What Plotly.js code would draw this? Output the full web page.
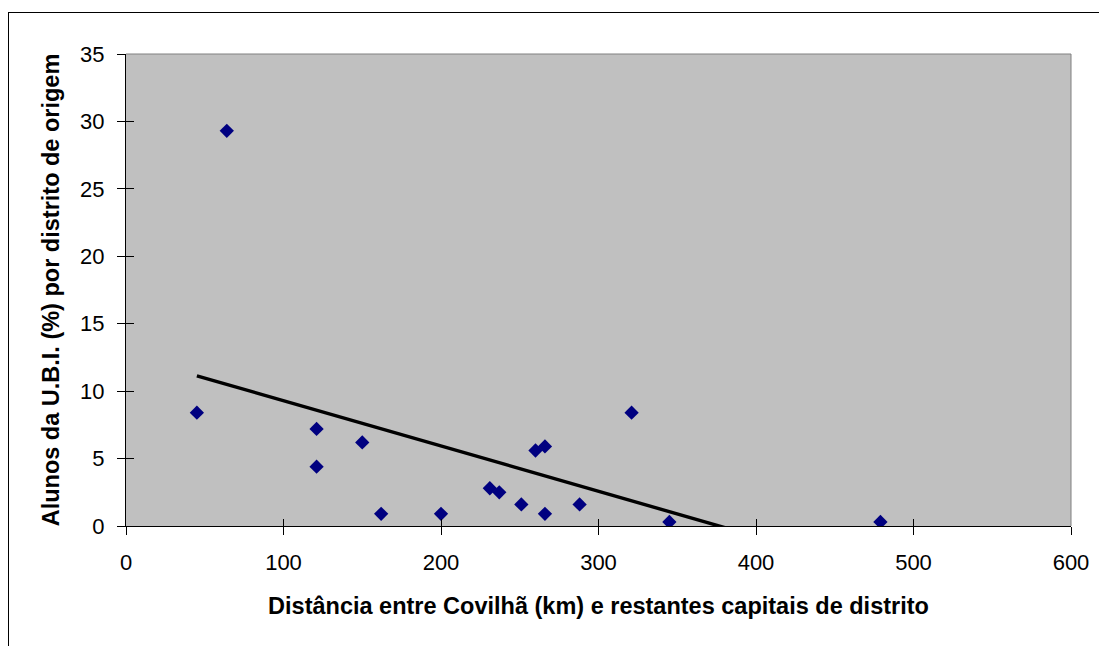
<!DOCTYPE html>
<html>
<head>
<meta charset="utf-8">
<script src="https://cdn.plot.ly/plotly-3.0.1.min.js"></script>
<style>
html, body { margin:0; padding:0; overflow:hidden; background:#fff; width:1099px; height:646px; }
#frame { position:absolute; left:8px; top:12px; width:1300px; height:900px; border:1px solid #000; box-sizing:border-box; }
#chart { position:absolute; left:0; top:0; width:1099px; height:646px; }
</style>
</head>
<body>
<div id="frame"></div>
<div id="chart"></div>
<script>
// Distance from Covilhã (km) to each district capital
const distanceKm = [45, 64, 121, 121, 150, 162, 200, 231, 237, 251, 260, 266, 266, 288, 321, 345, 479];
// Share of UBI students (%) per district of origin
const studentsPct = [8.4, 29.3, 7.2, 4.4, 6.2, 0.9, 0.9, 2.8, 2.5, 1.6, 5.6, 5.9, 0.9, 1.6, 8.4, 0.3, 0.3];
const xTicks = [0, 100, 200, 300, 400, 500, 600];
const yTicks = [0, 5, 10, 15, 20, 25, 30, 35];
const xTitle = 'Distância entre Covilhã (km) e restantes capitais de distrito';
const yTitle = 'Alunos da U.B.I. (%) por distrito de origem';

// linear least-squares trendline (as Excel's linear trendline)
const n = distanceKm.length;
const mx = distanceKm.reduce((a, b) => a + b, 0) / n;
const my = studentsPct.reduce((a, b) => a + b, 0) / n;
let sxy = 0, sxx = 0;
for (let i = 0; i < n; i++) {
  sxy += (distanceKm[i] - mx) * (studentsPct[i] - my);
  sxx += (distanceKm[i] - mx) * (distanceKm[i] - mx);
}
const slope = sxy / sxx;
const intercept = my - slope * mx;
const trendX = [Math.min(...distanceKm), Math.max(...distanceKm)];
const trendY = trendX.map(v => intercept + slope * v);

const font = 'Liberation Sans, Arial, sans-serif';

const traces = [
  {
    x: trendX, y: trendY, mode: 'lines', type: 'scatter',
    line: {color: '#000000', width: 3.4}, hoverinfo: 'skip', showlegend: false
  },
  {
    x: distanceKm, y: studentsPct, mode: 'markers', type: 'scatter',
    marker: {symbol: 'diamond', size: 11, color: '#000080', line: {width: 0}},
    showlegend: false
  },
  {
    x: [null], y: [null], xaxis: 'x2', yaxis: 'y2', mode: 'markers', type: 'scatter',
    showlegend: false, hoverinfo: 'skip'
  }
];

const layout = {
  width: 1099, height: 646,
  margin: {l: 126, r: 28, t: 54, b: 120},
  paper_bgcolor: 'rgba(0,0,0,0)',
  plot_bgcolor: '#C0C0C0',
  font: {family: font, color: '#000', size: 22},
  showlegend: false,
  xaxis: {
    range: [0, 600], tickvals: xTicks, ticktext: xTicks.map(String),
    showgrid: false, zeroline: false,
    showline: true, linecolor: '#000', linewidth: 1,
    ticks: 'outside', ticklen: 8, tickcolor: '#000', tickwidth: 1,
    ticklabelstandoff: 9,
    tickfont: {family: font, size: 22, color: '#000'},
    title: {text: xTitle, font: {family: font, size: 23.5, color: '#000', weight: 'bold'}, standoff: 23},
    fixedrange: true
  },
  yaxis: {
    range: [0, 35], tickvals: yTicks, ticktext: yTicks.map(String),
    showgrid: false, zeroline: false,
    showline: true, linecolor: '#000', linewidth: 1,
    ticks: 'outside', ticklen: 8, tickcolor: '#000', tickwidth: 1,
    ticklabelstandoff: 8,
    tickfont: {family: font, size: 22, color: '#000'},
    title: {text: yTitle, font: {family: font, size: 23.5, color: '#000', weight: 'bold'}, standoff: 13},
    fixedrange: true
  },
  xaxis2: {
    overlaying: 'x', anchor: 'y2', range: [0, 600], tickvals: xTicks,
    showticklabels: false, showgrid: false, zeroline: false, showline: false,
    ticks: 'inside', ticklen: 7, tickcolor: '#000', tickwidth: 1, fixedrange: true
  },
  yaxis2: {
    overlaying: 'y', anchor: 'x2', range: [0, 35], tickvals: yTicks,
    showticklabels: false, showgrid: false, zeroline: false, showline: false,
    ticks: 'inside', ticklen: 8, tickcolor: '#000', tickwidth: 1, fixedrange: true
  },
  shapes: [
    {type: 'line', xref: 'paper', yref: 'paper', x0: 0, x1: 1, y0: 1, y1: 1,
     line: {color: '#808080', width: 1}, layer: 'above'},
    {type: 'line', xref: 'paper', yref: 'paper', x0: 1, x1: 1, y0: 0, y1: 1,
     line: {color: '#808080', width: 1}, layer: 'above'}
  ]
};

Plotly.newPlot('chart', traces, layout, {displayModeBar: false, staticPlot: true});
</script>
</body>
</html>
